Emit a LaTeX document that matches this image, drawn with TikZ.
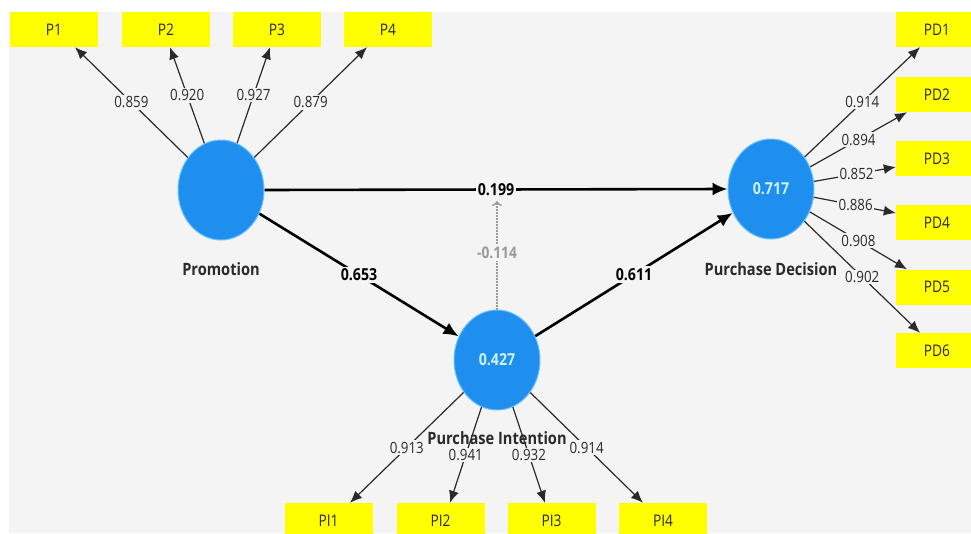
\documentclass[tikz,border=0pt]{standalone}
\usepackage{fontspec}
\setmainfont[FakeStretch=0.86]{Open Sans}
\usetikzlibrary{arrows.meta,calc,shapes.geometric}

\definecolor{canvas}{HTML}{F4F4F4}
\definecolor{indbox}{HTML}{FFFF00}
\definecolor{latent}{HTML}{1E8FEF}
\definecolor{latentrim}{HTML}{6CC4FF}
\definecolor{latenttext}{HTML}{CFF2FF}
\definecolor{inktext}{HTML}{2A2A2A}
\definecolor{dimgray}{HTML}{9A9A9A}

\tikzset{
  indicator/.style={rectangle, fill=indbox, minimum width=88pt, minimum height=35pt,
    inner sep=0pt, text=inktext, font=\fontsize{16}{18}\selectfont},
  construct/.style={ellipse, fill=latent, draw=latentrim, line width=1pt,
    minimum width=86pt, minimum height=100pt, inner sep=0pt,
    text=latenttext, font=\bfseries\fontsize{16.5}{19}\selectfont},
  cname/.style={text=inktext, font=\bfseries\fontsize{17}{20}\selectfont},
  loading/.style={draw=inktext, line width=1.2pt,
    -{Latex[length=12pt,width=10pt]}},
  loadval/.style={fill=canvas, inner sep=1.5pt, text=inktext,
    font=\fontsize{15.5}{18}\selectfont},
  pathcoef/.style={draw=black, line width=2.6pt,
    -{Latex[length=15pt,width=13pt]}},
  pathval/.style={fill=canvas, inner sep=2pt, text=black,
    font=\bfseries\fontsize{16.5}{19}\selectfont},
  moderate/.style={draw=dimgray, line width=1.4pt, dash pattern=on 2pt off 1pt,
    -{To[length=5pt,width=10pt]}},
  modval/.style={fill=canvas, inner sep=2pt, text=dimgray,
    font=\bfseries\fontsize{16}{18}\selectfont}
}

\begin{document}
\begin{tikzpicture}[x=1pt,y=-1pt]
  \useasboundingbox (0,0) rectangle (971,533);
  \fill[white] (0,0) rectangle (971,533);
  \fill[canvas] (9,12) rectangle (971,533);

  % constructs
  \node[construct] (prom) at (221,190) {};
  \node[construct] (pd) at (771,189) {0.717};
  \node[construct] (pi) at (497,360) {0.427};

  % indicator boxes
  \node[indicator] (P1) at (54,29.5) {P1};
  \node[indicator] (P2) at (166,29.5) {P2};
  \node[indicator] (P3) at (277,29.5) {P3};
  \node[indicator] (P4) at (388,29.5) {P4};

  \node[indicator] (PD1) at (940,29.5) {\hspace*{-6pt}PD1};
  \node[indicator] (PD2) at (940,94.5) {\hspace*{-6pt}PD2};
  \node[indicator] (PD3) at (940,158.5) {\hspace*{-6pt}PD3};
  \node[indicator] (PD4) at (940,222.5) {\hspace*{-6pt}PD4};
  \node[indicator] (PD5) at (940,287) {\hspace*{-6pt}PD5};
  \node[indicator] (PD6) at (940,350.5) {\hspace*{-6pt}PD6};

  \node[indicator, minimum height=36pt] (PI1) at (328.5,521) {PI1};
  \node[indicator, minimum height=36pt] (PI2) at (440.5,521) {PI2};
  \node[indicator, minimum height=36pt] (PI3) at (551.5,521) {PI3};
  \node[indicator, minimum height=36pt] (PI4) at (663,521) {PI4};

  % arrow end points on the indicator boxes
  \coordinate (tP1) at ($(P1.south)+(21,0)$);
  \coordinate (tP2) at ($(P2.south)+(4,0)$);
  \coordinate (tP3) at ($(P3.south)+(-7,0)$);
  \coordinate (tP4) at ($(P4.south)+(-21,0)$);
  \coordinate (tPD1) at ($(PD1.south)+(-20,0)$);
  \coordinate (tPD2) at ($(PD2.south)+(-33,0)$);
  \coordinate (tPD3) at ($(PD3.west)+(0,8.5)$);
  \coordinate (tPD4) at ($(PD4.west)+(0,-9.5)$);
  \coordinate (tPD5) at ($(PD5.north)+(-33,0)$);
  \coordinate (tPD6) at ($(PD6.north)+(-20,0)$);
  \coordinate (tPI1) at ($(PI1.north)+(21.5,0)$);
  \coordinate (tPI2) at ($(PI2.north)+(9.5,0)$);
  \coordinate (tPI3) at ($(PI3.north)+(-6.5,0)$);
  \coordinate (tPI4) at ($(PI4.north)+(-20,0)$);
  \coordinate (modtip) at (497,201);

  % construct names
  \node[cname] (promname) at (221,269) {Promotion};
  \node[cname] (pdname) at (771,269) {Purchase Decision};
  \node[cname] (piname) at (497,438) {Purchase Intention};

  % outer loadings
  \draw[loading] (prom) -- (tP1) node[loadval, pos=0.5] {0.859};
  \draw[loading] (prom) -- (tP2) node[loadval, pos=0.5] {0.920};
  \draw[loading] (prom) -- (tP3) node[loadval, pos=0.5] {0.927};
  \draw[loading] (prom) -- (tP4) node[loadval, pos=0.5] {0.879};

  \draw[loading] (pd) -- (tPD1) node[loadval, pos=0.5] {0.914};
  \draw[loading] (pd) -- (tPD2) node[loadval, pos=0.5] {0.894};
  \draw[loading] (pd) -- (tPD3) node[loadval, pos=0.52] {0.852};
  \draw[loading] (pd) -- (tPD4) node[loadval, pos=0.51] {0.886};
  \draw[loading] (pd) -- (tPD5) node[loadval, pos=0.5] {0.908};
  \draw[loading] (pd) -- (tPD6) node[loadval, pos=0.5] {0.902};

  \draw[loading] (pi) -- (tPI1) node[loadval, pos=0.5] {0.913};
  \draw[loading] (pi) -- (tPI2) node[loadval, pos=0.5] {0.941};
  \draw[loading] (pi) -- (tPI3) node[loadval, pos=0.5] {0.932};
  \draw[loading] (pi) -- (tPI4) node[loadval, pos=0.5] {0.914};

  % moderating effect
  \draw[moderate] (pi.north) -- (modtip) node[modval, pos=0.52] {-0.114};

  % structural paths
  \draw[pathcoef] (prom.east) -- (pd.west) node[pathval, pos=0.5] {0.199};
  \draw[pathcoef] (prom) -- (pi) node[pathval, pos=0.5] {0.653};
  \draw[pathcoef] (pi) -- (pd) node[pathval, pos=0.5] {0.611};
\end{tikzpicture}
\end{document}
